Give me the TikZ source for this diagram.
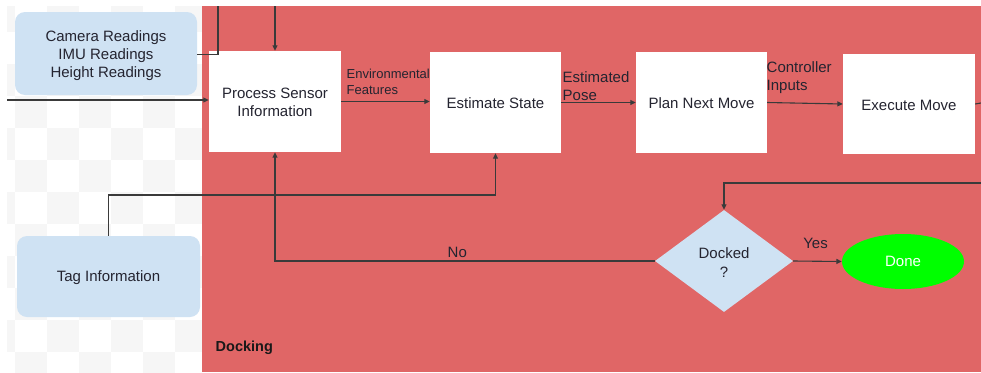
\documentclass[tikz,border=0pt]{standalone}
\usepackage{fontspec}
\setmainfont{Liberation Sans}
\usetikzlibrary{arrows.meta,shapes.geometric}

\definecolor{dockred}{HTML}{E06666}
\definecolor{inblue}{HTML}{CFE2F3}
\definecolor{checkgray}{HTML}{F6F6F6}
\definecolor{linecol}{HTML}{3A3A3A}
\definecolor{txtcol}{HTML}{242430}
\definecolor{donegreen}{HTML}{00FF00}

\tikzset{
  every node/.style={font=\fontsize{15}{18}\selectfont, text=txtcol},
  inbox/.style={fill=inblue, rounded corners=10pt, align=center, inner sep=0pt},
  stepbox/.style={fill=white, align=center, inner sep=0pt,
                  minimum width=131pt, minimum height=101pt},
  decision/.style={diamond, fill=inblue, align=center, inner sep=0pt,
                   minimum width=138pt, minimum height=102pt,
                   font=\fontsize{15}{19}\selectfont},
  finish/.style={ellipse, fill=donegreen, text=white, inner sep=0pt,
                 minimum width=122pt, minimum height=55pt},
  edgelbl/.style={align=left, inner sep=0pt, anchor=west},
  conn/.style={draw=linecol, line width=1.1pt},
  arr/.style={conn, -{Triangle[length=5.5pt,width=5pt]}},
}

\begin{document}
\begin{tikzpicture}[x=1pt,y=-1pt]
\useasboundingbox (0,0) rectangle (981,372);
\fill[white] (0,0) rectangle (981,372);

% transparent canvas pattern left of the docking lane
\begin{scope}
  \clip (7,6) rectangle (202,372);
  \foreach \i in {-1,...,5}{
    \foreach \j in {-4,...,7}{
      \pgfmathtruncatemacro\cellpar{mod(\i+\j+20,2)}
      \ifnum\cellpar=1
        \fill[checkgray] (15+32*\i,128+32*\j) rectangle ++(32,32);
      \fi
    }
  }
\end{scope}

% docking lane
\fill[dockred] (201.5,6) rectangle (981,372);
\node[anchor=west, inner sep=0pt, font=\fontsize{14.5}{17}\selectfont\bfseries, text=black!90]
  (lane) at (215.5,348) {Docking};

% inputs
\node[inbox, minimum width=182pt, minimum height=83pt] (cam) at (106,53.5)
  {\rule{0pt}{15pt}Camera Readings\\IMU Readings\\Height Readings};
\node[inbox, minimum width=183pt, minimum height=81pt] (tag) at (108.5,276.5)
  {\rule{0pt}{14pt}Tag Information};

% process steps
\node[stepbox, minimum width=132pt] (proc) at (275,101.5) {\rule{0pt}{13pt}Process Sensor\\Information};
\node[stepbox] (est) at (495.5,102.5) {\rule{0pt}{13pt}Estimate State};
\node[stepbox] (plan) at (701.5,102.5) {\rule{0pt}{13pt}Plan Next Move};
\node[stepbox, minimum width=132pt, minimum height=100pt] (exe) at (909,104) {\rule{0pt}{13pt}Execute Move};

% decision and end
\node[decision] (dock) at (724,261) {\rule{0pt}{13pt}Docked\\?};
\node[finish] (done) at (903,261.5) {Done};

% free ends at the canvas edges
\coordinate (inL) at (7,100);
\coordinate (topA) at (218,6);
\coordinate (topB) at (275,6);
\coordinate (outR) at (981,103);
\coordinate (loopIn) at (981,183);
\coordinate (tagturn) at (495.5,195);

% connectors
\draw[arr] (inL) -- (inL -| proc.west);
\draw[conn] ([yshift=-1pt]cam.east) -| (topA);
\draw[arr] (topB) -- (proc.north);
\draw[arr] (proc.east) -- (proc.east -| est.west);
\draw[arr] (est.east) -- (est.east -| plan.west);
\draw[arr] (plan.east) -- (exe.west);
\draw[conn] (exe.east) -- (outR);
\draw[arr] (loopIn) -| (dock.north);
\draw[arr] (dock.west) -| node[pos=0.26, above=-1pt] (nolbl) {No} (proc.south);
\draw[arr] (dock.east) -- node[pos=0.46, above=9pt] (yeslbl) {Yes} (done.west);
\draw[arr] (tag.north) |- (tagturn) -- (est.south);

% edge labels
\node[edgelbl, font=\fontsize{13}{16}\selectfont] (envlbl) at (346.5,81.5) {Environmental\\Features};
\node[edgelbl] (poselbl) at (562.5,86.5) {Estimated\\Pose};
\node[edgelbl] (ctrllbl) at (766.5,78) {Controller\\Inputs};
\end{tikzpicture}
\end{document}
